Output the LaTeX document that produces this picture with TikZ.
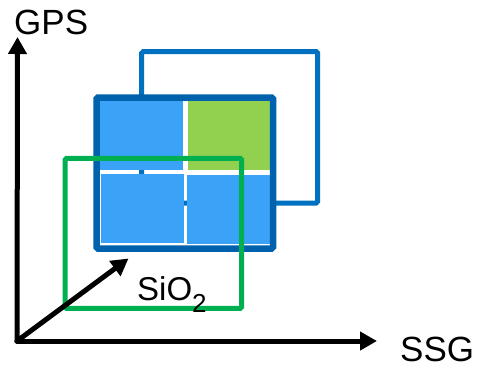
\documentclass[tikz,border=0pt]{standalone}
\usepackage{fontspec}
\setmainfont{Liberation Sans}
\usepackage{tikz}
\usetikzlibrary{arrows.meta,positioning}
\definecolor{outerblue}{RGB}{0,112,192}
\definecolor{frameblue}{RGB}{0,98,172}
\definecolor{cellblue}{RGB}{58,163,248}
\definecolor{cellgreen}{RGB}{146,208,80}
\definecolor{linegreen}{RGB}{0,176,80}

\begin{document}
\begin{tikzpicture}[x=1pt,y=-1pt,
              axis/.style={line width=5pt, black, line cap=round, line join=round,
                           -{Triangle[length=17pt,width=18pt]}},
              box/.style={line width=5pt, rounded corners=1.5pt},
              lbl/.style={inner sep=0pt, font=\fontsize{35}{40}\selectfont},
             ]
\useasboundingbox (0,0) rectangle (479,368);
% outer blue frame, partly hidden by the cells
\draw[box, outerblue] (141.7,51.7) rectangle (317.7,203);
% cells
\fill[cellblue] (100,100.7) rectangle (182.7,170);
\fill[cellgreen] (187.7,100.7) rectangle (270.7,170);
\fill[cellblue] (100.7,174) rectangle (184.3,242.7);
\fill[cellblue] (186.7,175) rectangle (270.7,244);
\draw[box, frameblue, line width=6.5pt] (96.5,97.5) rectangle (273,248.5);
% green frame on top
\draw[box, linegreen] (65,158.3) rectangle (241.7,308.3);
% axes
\coordinate (o) at (17,341);
\coordinate (ytip) at (17.5,37);
\coordinate (xtip) at (377,341);
\coordinate (ztip) at (128.5,258.5);
\draw[axis] (o) -- (ytip);
\draw[axis] (o) -- (xtip);
\draw[axis] (o) -- (ztip);
\node[lbl, anchor=base west] (gps) at (14,34) {GPS};
\node[lbl, anchor=base west] (ssg) at (400,361) {SSG};
\node[inner sep=0pt, anchor=base west, font=\fontsize{33}{38}\selectfont] (sio) at (137,300)
  {SiO\raisebox{-12pt}{\fontsize{26}{26}\selectfont 2}};
\end{tikzpicture}
\end{document}
